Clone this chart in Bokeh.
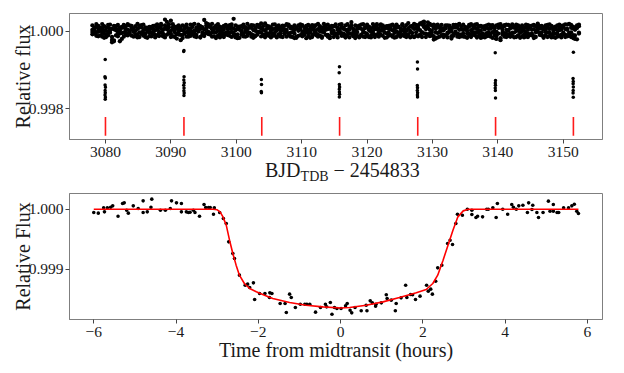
import numpy as np
from bokeh.plotting import figure
from bokeh.layouts import column
from bokeh.models import FixedTicker, Range1d, NumeralTickFormatter, Div
from bokeh.embed import file_html
from bokeh.resources import INLINE

# ---------------- data: top panel (full light curve) ----------------
band_time = [
    3078.0, 3078.3, 3078.6, 3078.9, 3079.2, 3079.5, 3079.8, 3080.1, 3080.4, 3080.7,
    3081.0, 3081.3, 3081.6, 3081.9, 3082.2, 3082.5, 3082.8, 3083.1, 3083.4, 3083.7,
    3084.0, 3084.3, 3084.6, 3084.9, 3085.2, 3085.5, 3085.8, 3086.1, 3086.4, 3086.7,
    3087.0, 3087.3, 3087.6, 3087.9, 3088.2, 3088.5, 3088.8, 3089.1, 3089.4, 3089.7,
    3090.0, 3090.3, 3090.6, 3090.9, 3091.2, 3091.5, 3091.8, 3092.1, 3092.4, 3092.7,
    3093.0, 3093.3, 3093.6, 3093.9, 3094.2, 3094.5, 3094.8, 3095.1, 3095.4, 3095.7,
    3096.0, 3096.3, 3096.6, 3096.9, 3097.2, 3097.5, 3097.8, 3098.1, 3098.4, 3098.7,
    3099.0, 3099.3, 3099.6, 3099.9, 3100.2, 3100.5, 3100.8, 3101.1, 3101.4, 3101.7,
    3102.0, 3102.3, 3102.6, 3102.9, 3103.2, 3103.5, 3103.8, 3104.1, 3104.4, 3104.7,
    3105.0, 3105.3, 3105.6, 3105.9, 3106.2, 3106.5, 3106.8, 3107.1, 3107.4, 3107.7,
    3108.0, 3108.3, 3108.6, 3108.9, 3109.2, 3109.5, 3109.8, 3110.1, 3110.4, 3110.7,
    3111.0, 3111.3, 3111.6, 3111.9, 3112.2, 3112.5, 3112.8, 3113.1, 3113.4, 3113.7,
    3114.0, 3114.3, 3114.6, 3114.9, 3115.2, 3115.5, 3115.8, 3116.1, 3116.4, 3116.7,
    3117.0, 3117.3, 3117.6, 3117.9, 3118.2, 3118.5, 3118.8, 3119.1, 3119.4, 3119.7,
    3120.0, 3120.3, 3120.6, 3120.9, 3121.2, 3121.5, 3121.8, 3122.1, 3122.4, 3122.7,
    3123.0, 3123.3, 3123.6, 3123.9, 3124.2, 3124.5, 3124.8, 3125.1, 3125.4, 3125.7,
    3126.0, 3126.3, 3126.6, 3126.9, 3127.2, 3127.5, 3127.8, 3128.1, 3128.4, 3128.7,
    3129.0, 3129.3, 3129.6, 3129.9, 3130.2, 3130.5, 3130.8, 3131.1, 3131.4, 3131.7,
    3132.0, 3132.3, 3132.6, 3132.9, 3133.2, 3133.5, 3133.8, 3134.1, 3134.4, 3134.7,
    3135.0, 3135.3, 3135.6, 3135.9, 3136.2, 3136.5, 3136.8, 3137.1, 3137.4, 3137.7,
    3138.0, 3138.3, 3138.6, 3138.9, 3139.2, 3139.5, 3139.8, 3140.1, 3140.4, 3140.7,
    3141.0, 3141.3, 3141.6, 3141.9, 3142.2, 3142.5, 3142.8, 3143.1, 3143.4, 3143.7,
    3144.0, 3144.3, 3144.6, 3144.9, 3145.2, 3145.5, 3145.8, 3146.1, 3146.4, 3146.7,
    3147.0, 3147.3, 3147.6, 3147.9, 3148.2, 3148.5, 3148.8, 3149.1, 3149.4, 3149.7,
    3150.0, 3150.3, 3150.6, 3150.9, 3151.2, 3151.5, 3151.8, 3152.1, 3152.4,
]

# out-of-transit flux deviations (ppm), four interleaved exposure sets
band_ppm_a = [
    35, -62, 118, -15, 74, -140, 22, -95, 160, -38,
    -225, 48, -110, 12, -260, 86, -33, 130, -72, 5,
    92, -18, -125, 58, 140, -66, 27, -150, 83, -41,
    110, -87, 16, 175, -52, 68, -118, 300, 45, -24,
    270, -130, 38, -76, 152, -233, 21, -59, 96, -140,
    64, -12, 188, -97, 31, -165, 78, 290, -43, 120,
    -88, 52, -20, 143, -115, 9, 97, -70, 166, -35,
    73, -148, 320, 26, -82, 115, -10, -135, 58, 190,
    -57, 84, -170, 40, 122, -28, 200, -92, 15, 135,
    -64, 19, -118, 176, 48, -85, 102, -150, 33, -8,
    128, -45, 66, -178, 90, 11, -102, 155, -30, 72,
    -126, 43, 158, -60, 24, -140, 85, -17, 112, -95,
    56, -180, 140, 8, -70, 93, -42, 98, -120, 37,
    180, -55, 233, -88, 14, 125, -160, 61, -25, 106,
    -132, 70, -14, 185, -98, 46, -58, 137, 18, -170,
    88, -35, 150, -110, 62, -8, 120, -142, 29, 94,
    -75, 210, -20, 108, -155, 77, 40, -90, 168, 250,
    52, 230, -128, 16, -215, 145, -48, 80, -104, 26,
    118, -66, 35, -190, 92, -12, 160, -85, 47, -138,
    74, 13, -117, 182, -40, 96, -162, 28, 135, -58,
    -94, 150, -30, 66, -175, 110, -20, 84, -233, 45,
    128, -70, 20, -146, 175, -36, 90, -112, 58, -9,
    -160, 102, 33, -84, 145, -128, 12, 196, -50, 77,
    40, -104, 163, -22, 85, -150, 118, -64, 26, 140,
    -90, 55, -135, 190, -28, 70, -200, 108, -40,
]
band_ppm_b = [
    -80, 95, -25, 140, -110, 60, -170, 88, -45, 20,
    65, -240, 128, -55, 18, -200, 105, -92, 42, 150,
    -115, 73, 10, -160, 96, -34, 170, -68, 25, 112,
    -40, 135, -98, 54, -20, 188, -130, 82, 240, -60,
    14, 100, -150, 66, -88, 30, -178, 120, -24, 75,
    -122, 160, -48, 92, -10, 132, -95, 44, 210, -72,
    108, -140, 70, -30, 185, -62, -118, 36, -85, 125,
    -28, 86, -105, 150, 60, -172, 22, 98, -140, 48,
    118, -76, 30, -130, 164, -18, 70, -110, 200, -50,
    90, -160, 55, -40, 112, -92, 20, 146, -66, 35,
    -100, 78, -25, 150, -138, 46, 120, -70, 8, -180,
    160, -20, -95, 104, -58, 190, -118, 40, -30, 86,
    -140, 62, -12, 128, -96, 30, 172, -50, 90, -165,
    36, 112, -74, -130, 150, -26, 80, -105, 180, -44,
    95, -150, 58, -18, 122, -84, 10, 176, -120, 64,
    -55, 140, -100, 24, -168, 96, -40, 68, 155, -125,
    20, -82, 126, -46, 60, 160, -135, 200, -24, 108,
    -60, 148, 34, -112, 88, -190, 170, -20, 56, -150,
    76, -36, 142, 4, -120, 105, -64, 186, -90, 30,
    -148, 92, -55, 28, 136, -108, 60, -22, -175, 118,
    46, -130, 172, -66, 98, -14, -200, 140, 180, -88,
    -52, 168, -118, 74, -34, 120, -150, 16, 94, -128,
    82, -46, 155, -98, 36, -176, 128, -12, 70, -110,
    -135, 60, -30, 176, -82, 24, -60, 150, -118, 44,
    112, -150, 38, -70, 160, -100, 86, -210, 130,
]
band_ppm_c = [
    150, -30, -120, 70, 10, 185, -60, -150, 95, 60,
    -285, 140, 25, -130, 92, -48, 160, -20, -110, -75,
    48, -140, 130, -82, -28, 102, -115, 58, -170, 20,
    -135, 62, 145, -110, 96, -35, 30, -160, 115, 180,
    -60, 42, 110, -190, 76, -95, 150, -40, -140, 28,
    170, -80, 20, -150, 110, 58, -30, -125, 140, -12,
    -54, 190, -130, 85, 22, -160, 60, 135, -42, -100,
    160, -20, 74, -96, -180, 40, 130, -62, 105, -118,
    -40, 160, -100, 88, -12, 150, -136, 42, -80, 64,
    124, -30, 170, -112, 14, 60, -140, 92, -48, 180,
    -60, 118, -150, 30, 82, -120, 175, -18, -95, 140,
    28, -170, 72, 145, -106, 56, -8, -132, 190, 38,
    -95, 110, -46, -150, 176, -72, 14, -120, 60, 150,
    -118, 40, 96, -20, -175, 64, 142, -90, 30, -150,
    168, 26, -108, -70, 54, 180, -140, 12, 90, -38,
    130, -118, 48, 168, -44, -150, 110, -20, -96, 52,
    -150, 74, 10, -128, 190, -30, 88, -100, 220, -58,
    118, -80, 190, -40, -130, 60, -160, 120, 10, 72,
    -110, 150, -18, 80, -72, 164, -140, 36, 120, -60,
    40, -170, 118, -92, 62, -30, 180, -118, 20, 96,
    132, -48, -120, 150, -24, 74, -110, 168, -180, -40,
    -140, 32, 160, -60, -120, 88, 6, 150, -170, 76,
    20, -138, -60, 130, -110, 52, -30, 160, -96, 140,
    96, -20, -150, 70, 140, -50, -170, 28, 100, -86,
    -40, 175, 60, -120, 90, -160, 35, 150, -60,
]
band_ppm_d = [
    -20, 45, 180, -130, 90, -45, 130, 10, -110, 170,
    -150, -260, 70, 160, -60, 110, -140, 48, 180, -30,
    140, 35, -80, 190, -150, 160, -48, 100, -10, -125,
    72, -18, -160, 100, -125, 140, -64, 150, -90, 105,
    -150, 180, -30, 120, -10, 88, -100, 60, 170, -60,
    -40, 110, -135, 30, 170, -150, 102, -70, 60, 180,
    140, -30, 100, -175, 64, 120, -20, -150, 110, 48,
    -120, 176, -40, -160, 118, 86, -90, 168, -10, -50,
    100, -140, 150, 12, -90, 98, -28, 130, -156, -100,
    -120, 96, -80, 60, -160, 150, -50, 32, 136, -140,
    170, -140, 100, -60, -170, 150, 50, -130, 96, -20,
    -60, 110, -150, 20, 160, -96, 130, -170, 60, 140,
    170, -130, 90, -50, 120, -160, 40, 180, -60, -100,
    -20, -160, 150, 60, -80, -120, 110, 170, -140, 80,
    -70, 120, -160, 96, -150, 140, 70, -90, 150, 110,
    -160, 60, 110, -140, 120, 170, -80, -130, 180, -20,
    160, -120, -160, 140, 80, -110, 150, 30, -150, 190,
    -150, 100, -60, 150, 170, -30, 110, -140, 160, -90,
    150, -160, 90, -130, 160, -60, 90, -150, -130, 170,
    110, -60, 160, -150, -90, 170, -40, 130, -90, -150,
    -160, 90, 60, -140, 160, -100, 150, -60, 100, 120,
    160, -150, -80, 140, 100, -160, 170, -110, -40, 150,
    -90, 170, -150, 100, -60, 160, -150, 80, 130, -30,
    -170, 150, 90, -120, -160, 100, 60, -140, 170, -160,
    150, -90, 170, -40, -150, 120, -110, 80, 170,
]

# in-transit exposures (time, ppm)
intransit_time = [
    3079.96, 3079.92, 3079.98, 3079.94, 3080.00, 3079.95, 3079.97, 3079.93, 3079.99, 3079.96,
    3092.00, 3091.96, 3092.02, 3091.98, 3092.04, 3091.97, 3092.01, 3091.99, 3092.03, 3092.00,
    3103.84, 3103.86, 3103.82, 3103.85,
    3115.78, 3115.74, 3115.76, 3115.80, 3115.75, 3115.77, 3115.79, 3115.76,
    3127.70, 3127.72, 3127.68, 3127.71, 3127.69, 3127.73, 3127.70, 3127.72,
    3139.62, 3139.60, 3139.64, 3139.61, 3139.63, 3139.60, 3139.62, 3139.64,
    3151.52, 3151.55, 3151.50, 3151.53, 3151.51, 3151.54, 3151.52, 3151.50, 3151.53,
]
intransit_ppm = [
    -732, -1180, -1210, -1390, -1450, -1530, -1590, -1650, -1710, -1760,
    -500, -525, -1180, -1260, -1330, -1400, -1470, -1540, -1600, -1663,
    -1250, -1380, -1560, -1594,
    -922, -1077, -1380, -1440, -1500, -1570, -1630, -1700,
    -793, -974, -1405, -1460, -1530, -1590, -1650, -1700,
    -197, -560, -1276, -1340, -1400, -1470, -1530, -1725,
    -189, -543, -1224, -1300, -1360, -1440, -1530, -1600, -1707,
]

# transit epochs (red markers)
transit_epochs = [3080.0, 3092.0, 3103.9, 3115.8, 3127.75, 3139.65, 3151.55]
marker_lo = 0.99730
marker_hi = 0.99778

# ---------------- data: bottom panel (phase-folded) ----------------
fold_hours = [
    -6.00, -5.89, -5.76, -5.74, -5.67, -5.59, -5.54, -5.41, -5.30, -5.26,
    -5.20, -5.16, -5.04, -4.92, -4.80, -4.80, -4.70, -4.61, -4.59, -4.38,
    -4.26, -4.14, -4.11, -3.99, -3.87, -3.87, -3.75, -3.70, -3.66, -3.58,
    -3.54, -3.43, -3.32, -3.28, -3.21, -3.17, -3.09, -3.07, -2.94, -2.85,
    -2.78, -2.72, -2.62, -2.58, -2.46, -2.32, -2.26, -2.21, -2.12, -2.09,
    -1.97, -1.84, -1.73, -1.72, -1.67, -1.47, -1.35, -1.32, -1.24, -1.20,
    -1.10, -0.98, -0.87, -0.82, -0.75, -0.61, -0.49, -0.37, -0.34, -0.25,
    -0.21, -0.15, -0.09, 0.01, 0.12, 0.16, 0.23, 0.27, 0.35, 0.50,
    0.62, 0.64, 0.72, 0.77, 0.85, 0.86, 0.99, 1.11, 1.13, 1.23,
    1.33, 1.35, 1.47, 1.58, 1.61, 1.70, 1.75, 1.82, 1.93, 2.09,
    2.13, 2.19, 2.23, 2.31, 2.36, 2.46, 2.60, 2.66, 2.72, 2.80,
    2.84, 2.96, 3.08, 3.19, 3.19, 3.29, 3.33, 3.45, 3.55, 3.59,
    3.70, 3.78, 3.81, 3.94, 4.06, 4.16, 4.20, 4.27, 4.33, 4.43,
    4.54, 4.57, 4.65, 4.67, 4.77, 4.81, 4.92, 5.05, 5.09, 5.17,
    5.17, 5.26, 5.30, 5.42, 5.54, 5.62, 5.68, 5.74, 5.78,
]
fold_ppm = [
    -55, -66, 22, -44, 22, 33, 55, -116, 94, 105,
    -17, -66, 55, 11, 138, -55, -44, 33, 166, -17,
    -17, 11, 138, 105, 94, -44, -44, -55, -50, -17,
    -55, -116, 77, 28, 28, 28, -83, 22, -55, -155,
    -238, -542, -735, -818, -1094, -1260, -1243, -1299, -1221, -1497,
    -1398, -1398, -1464, -1387, -1398, -1564, -1564, -1713, -1409, -1464,
    -1630, -1575, -1575, -1575, -1575, -1707, -1630, -1575, -1619, -1547,
    -1741, -1630, -1647, -1647, -1603, -1564, -1675, -1719, -1630, -1685,
    -1592, -1685, -1520, -1553, -1608, -1575, -1553, -1420, -1480, -1508,
    -1685, -1564, -1470, -1260, -1464, -1414, -1420, -1497, -1442, -1260,
    -1359, -1326, -1409, -1194, -973, -929, -569, -514, -586, -238,
    -83, -100, 0, -17, -88, -138, -116, -127, 0, 0,
    22, -138, 94, 0, -83, 77, 33, 0, 55, 66,
    -55, 105, -6, 66, -55, -138, -55, 133, -33, 77,
    -33, -55, -55, 22, 22, 55, 83, -33, -72,
]

model_hours = [
    -6.00, -3.10, -3.00, -2.93, -2.86, -2.78, -2.70, -2.62, -2.54, -2.46,
    -2.34, -2.21, -2.05, -1.85, -1.65, -1.24, -0.84, -0.43, 0.00, 0.22,
    0.62, 1.03, 1.43, 1.84, 2.08, 2.24, 2.36, 2.49, 2.61, 2.73,
    2.85, 2.98, 3.10, 5.78,
]
model_ppm = [
    0, 0, -10, -45, -127, -265, -514, -735, -928, -1094,
    -1232, -1315, -1370, -1426, -1481, -1547, -1592, -1620, -1638, -1630,
    -1592, -1537, -1464, -1387, -1332, -1232, -1094, -846, -597, -348,
    -127, -28, 0, 0,
]

top_xticks = [3080, 3090, 3100, 3110, 3120, 3130, 3140, 3150]
top_yticks = [0.998, 1.000]
bot_xticks = [-6, -4, -2, 0, 2, 4, 6]
bot_yticks = [0.999, 1.000]

# ---------------- styling ----------------
FONT = "Liberation Serif"
TICK_SIZE = "15.5px"
LABEL_SIZE = "20px"
FRAME_COLOR = "#7f7f7f"
TEXT_COLOR = "#1a1a1a"


def to_flux(ppm):
    return 1.0 + np.asarray(ppm, dtype=float) * 1e-6


def style(p):
    p.grid.visible = False
    p.outline_line_color = FRAME_COLOR
    p.outline_line_width = 1
    p.background_fill_color = "white"
    p.border_fill_color = "white"
    for ax in (p.xaxis[0], p.yaxis[0]):
        ax.axis_line_color = FRAME_COLOR
        ax.major_tick_line_color = "#444444"
        ax.major_tick_out = 4
        ax.major_tick_in = 0
        ax.minor_tick_line_color = None
        ax.major_label_text_font = FONT
        ax.major_label_text_font_size = TICK_SIZE
        ax.major_label_text_color = TEXT_COLOR
        ax.axis_label_text_font = FONT
        ax.axis_label_text_font_size = LABEL_SIZE
        ax.axis_label_text_font_style = "normal"
        ax.axis_label_text_color = TEXT_COLOR
    p.xaxis.major_label_standoff = 3
    p.xaxis.axis_label_standoff = -1
    p.yaxis.major_label_standoff = 2
    p.yaxis.axis_label_standoff = -8


# ---------------- top panel ----------------
p1 = figure(width=608, height=163, output_backend="svg", toolbar_location=None,
            x_range=Range1d(3074.5, 3156.0), y_range=Range1d(0.99720, 1.000458),
            min_border_left=69, min_border_right=6, min_border_top=13, min_border_bottom=24)
style(p1)
for ppm in (band_ppm_a, band_ppm_b, band_ppm_c, band_ppm_d):
    p1.scatter(band_time, to_flux(ppm), size=4.3, color="black", line_width=0)
p1.scatter(intransit_time, to_flux(intransit_ppm), size=3.5, color="black", line_width=0)
p1.segment(x0=transit_epochs, y0=[marker_lo] * len(transit_epochs),
           x1=transit_epochs, y1=[marker_hi] * len(transit_epochs),
           line_color="#ff1a1a", line_width=1.6)
p1.xaxis.ticker = FixedTicker(ticks=top_xticks)
p1.yaxis.ticker = FixedTicker(ticks=top_yticks)
p1.yaxis.formatter = NumeralTickFormatter(format="0.000")
p1.yaxis.axis_label = "Relative flux"

# ---------------- x-axis title of the top panel (with subscript) ----------------
xtitle = Div(
    text=('<div style="margin-left:265px; white-space:nowrap; line-height:15px; '
          'font-family:\'Liberation Serif\'; font-size:20px; color:#1a1a1a;">'
          'BJD<span style="font-size:14px; position:relative; top:4px;">TDB</span>'
          ' \u2212 2454833</div>'),
    width=608, height=25, margin=(0, 0, 0, 0),
)

# ---------------- bottom panel ----------------
p2 = figure(width=608, height=178, output_backend="svg", toolbar_location=None,
            x_range=Range1d(-6.59, 6.365), y_range=Range1d(0.998171, 1.00026),
            min_border_left=69, min_border_right=6, min_border_top=5, min_border_bottom=47)
style(p2)
p2.scatter(fold_hours, to_flux(fold_ppm), size=3.6, color="black", line_width=0)
p2.line(model_hours, to_flux(model_ppm), line_color="#ff0000", line_width=1.6)
p2.xaxis.ticker = FixedTicker(ticks=bot_xticks)
p2.xaxis.major_label_overrides = {t: (str(t) if t >= 0 else "\u2212" + str(abs(t))) for t in bot_xticks}
p2.yaxis.ticker = FixedTicker(ticks=bot_yticks)
p2.yaxis.formatter = NumeralTickFormatter(format="0.000")
p2.yaxis.axis_label = "Relative Flux"
p2.xaxis.axis_label = "Time from midtransit (hours)"

layout = column(p1, xtitle, p2, spacing=0)
open("out.html", "w").write(file_html(layout, INLINE))
